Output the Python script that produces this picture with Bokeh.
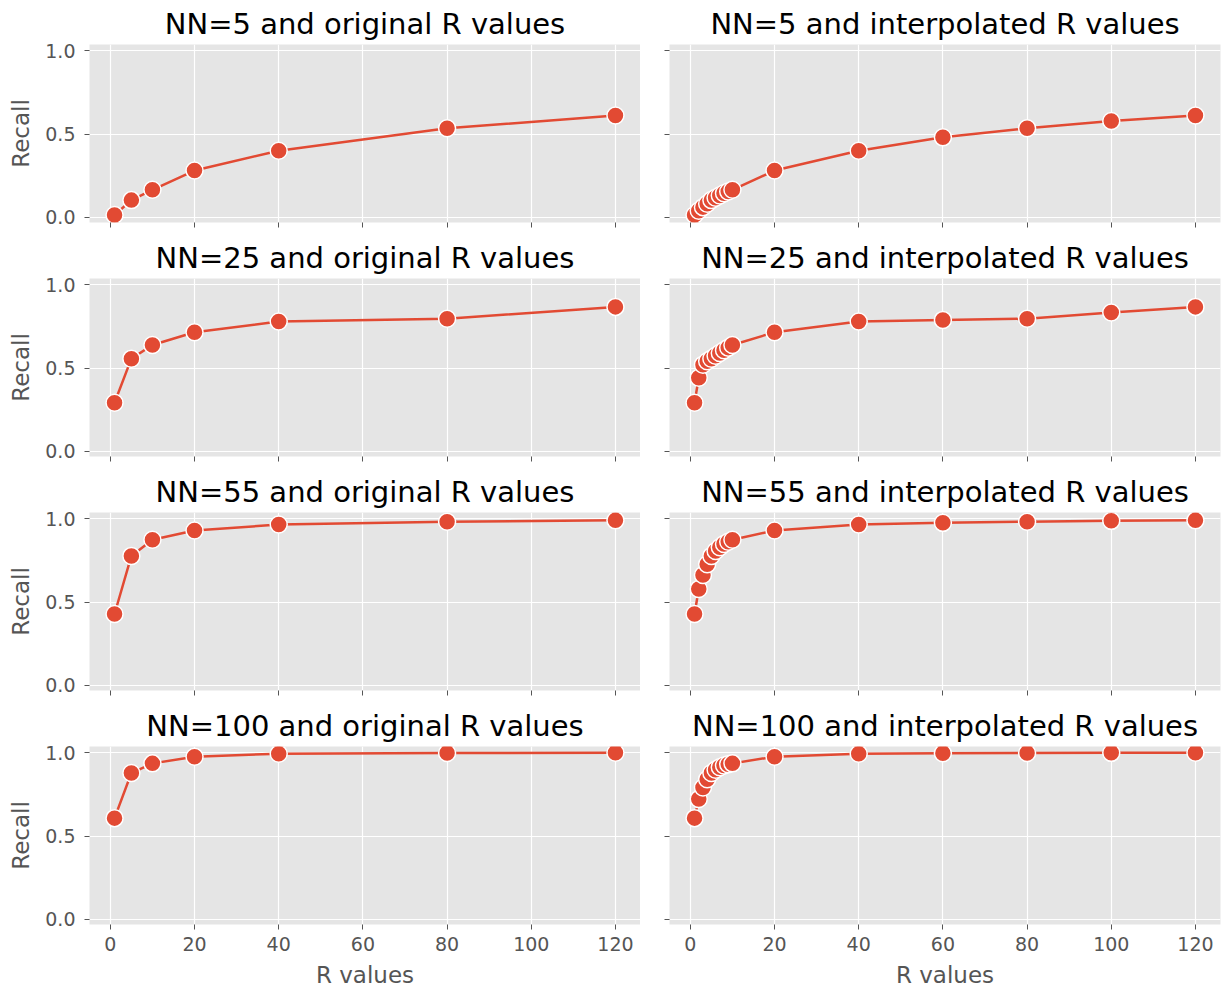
from bokeh.plotting import figure
from bokeh.layouts import column, row
from bokeh.models import Range1d, FixedTicker, PrintfTickFormatter, CustomJSTickFormatter
from bokeh.embed import file_html
from bokeh.resources import INLINE

# ---------------- data ----------------
r_original = [1, 5, 10, 20, 40, 80, 120]
r_interpolated = [1, 2, 3, 4, 5, 6, 7, 8, 9, 10, 20, 40, 60, 80, 100, 120]

nn_values = [5, 25, 55, 100]

recall_nn5_original = [0.015, 0.104, 0.166, 0.281, 0.400, 0.534, 0.611]
recall_nn5_interpolated = [0.015, 0.040, 0.062, 0.082, 0.104, 0.118, 0.132, 0.145, 0.156, 0.166,
                           0.281, 0.400, 0.480, 0.534, 0.578, 0.611]

recall_nn25_original = [0.292, 0.556, 0.638, 0.714, 0.778, 0.795, 0.866]
recall_nn25_interpolated = [0.292, 0.442, 0.520, 0.540, 0.556, 0.573, 0.590, 0.606, 0.622, 0.638,
                            0.714, 0.778, 0.788, 0.795, 0.832, 0.866]

recall_nn55_original = [0.428, 0.776, 0.873, 0.928, 0.964, 0.981, 0.989]
recall_nn55_interpolated = [0.428, 0.578, 0.662, 0.726, 0.776, 0.805, 0.828, 0.847, 0.861, 0.873,
                            0.928, 0.964, 0.974, 0.981, 0.986, 0.989]

recall_nn100_original = [0.607, 0.877, 0.935, 0.975, 0.993, 0.997, 0.999]
recall_nn100_interpolated = [0.607, 0.722, 0.790, 0.840, 0.877, 0.897, 0.912, 0.922, 0.930, 0.935,
                             0.975, 0.993, 0.996, 0.997, 0.998, 0.999]

x_ticks = [0, 20, 40, 60, 80, 100, 120]
y_ticks = [0.0, 0.5, 1.0]

original_series = [recall_nn5_original, recall_nn25_original, recall_nn55_original, recall_nn100_original]
interp_series = [recall_nn5_interpolated, recall_nn25_interpolated, recall_nn55_interpolated,
                 recall_nn100_interpolated]

# ---------------- style ----------------
FONT = "DejaVu Sans"
LINE_COLOR = "#E24A33"
PANEL_BG = "#E5E5E5"
TICK_COLOR = "#555555"
FRAME_W = 551
FRAME_H = 178


def make_panel(title, xs, ys, left_col, bottom_row):
    p = figure(
        output_backend="svg", toolbar_location=None,
        frame_width=FRAME_W, frame_height=FRAME_H,
        x_range=Range1d(-4.95, 125.95), y_range=Range1d(-0.03, 1.036),
        min_border_left=89 if left_col else 29,
        min_border_right=0 if left_col else 2,
        min_border_top=44,
        min_border_bottom=68 if bottom_row else 12,
        background_fill_color=PANEL_BG,
        border_fill_color="white",
        outline_line_color=None,
    )
    p.title.text = title
    p.title.align = "center"
    p.title.text_font = FONT
    p.title.text_font_size = "29px"
    p.title.text_font_style = "normal"
    p.title.text_color = "black"
    p.title.standoff = 7

    p.xaxis.ticker = FixedTicker(ticks=x_ticks)
    p.yaxis.ticker = FixedTicker(ticks=y_ticks)
    p.yaxis.formatter = PrintfTickFormatter(format="%.1f")

    for ax in (p.xaxis[0], p.yaxis[0]):
        ax.axis_line_color = None
        ax.major_tick_line_color = TICK_COLOR
        ax.major_tick_line_width = 1
        ax.major_tick_out = 5
        ax.major_tick_in = 0
        ax.minor_tick_line_color = None
        ax.major_label_text_font = FONT
        ax.major_label_text_font_size = "19px"
        ax.major_label_text_color = TICK_COLOR
        ax.axis_label_text_font = FONT
        ax.axis_label_text_font_size = "23px"
        ax.axis_label_text_font_style = "normal"
        ax.axis_label_text_color = TICK_COLOR
        ax.axis_label_standoff = 8
    p.yaxis.major_label_standoff = 9
    p.xaxis.major_label_standoff = 7

    if left_col:
        p.yaxis.axis_label = "Recall"
    else:
        p.yaxis.formatter = CustomJSTickFormatter(code="return ''")
        p.yaxis.major_label_text_font_size = "1px"
        p.yaxis.major_label_standoff = 0
    if bottom_row:
        p.xaxis.axis_label = "R values"
    else:
        p.xaxis.formatter = CustomJSTickFormatter(code="return ''")
        p.xaxis.major_label_text_font_size = "1px"
        p.xaxis.major_label_standoff = 0

    p.xgrid.grid_line_color = "white"
    p.ygrid.grid_line_color = "white"
    p.xgrid.grid_line_width = 1.2
    p.ygrid.grid_line_width = 1.2

    p.line(xs, ys, line_color=LINE_COLOR, line_width=2.5)
    p.scatter(xs, ys, marker="circle", size=17, fill_color=LINE_COLOR,
              line_color="white", line_width=1.5)
    return p


rows = []
for i, nn in enumerate(nn_values):
    bottom = (i == len(nn_values) - 1)
    left = make_panel(f"NN={nn} and original R values", r_original, original_series[i], True, bottom)
    right = make_panel(f"NN={nn} and interpolated R values", r_interpolated, interp_series[i], False, bottom)
    rows.append(row(left, right, spacing=0))

layout = column(*rows, spacing=0)

html = file_html(layout, INLINE, title="Recall vs R values")
with open("out.html", "w") as f:
    f.write(html)
